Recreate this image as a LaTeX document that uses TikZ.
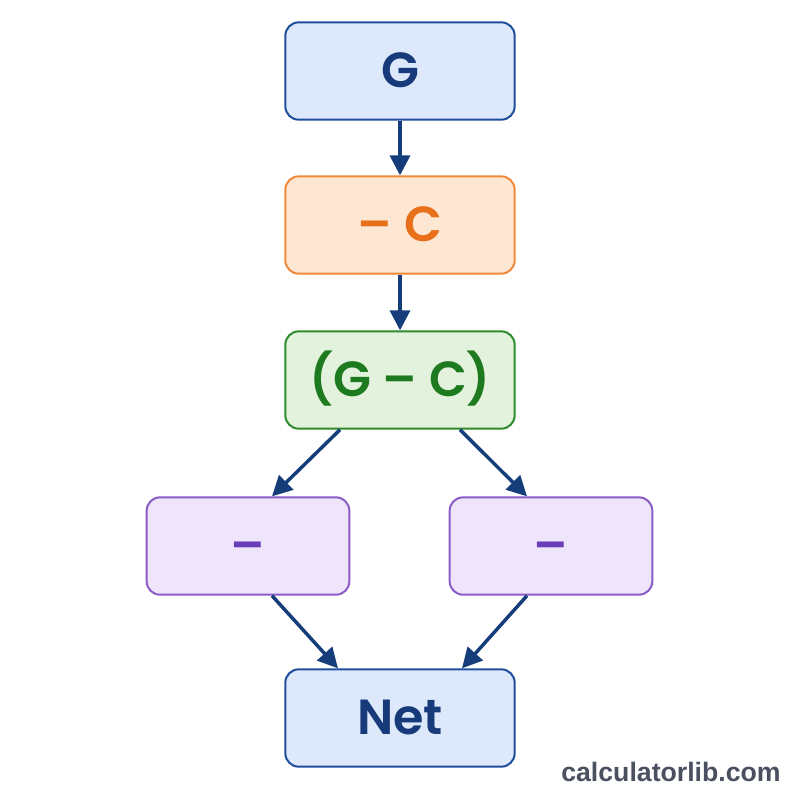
\documentclass[tikz,border=0pt]{standalone}
\usepackage{fontspec}
\setmainfont{Poppins}[BoldFont={Poppins SemiBold}]
\newfontfamily\wmfont{Liberation Sans}
\usetikzlibrary{arrows.meta}
\definecolor{bfill}{HTML}{DDE8FB}
\definecolor{bdraw}{HTML}{1F4E9A}
\definecolor{btext}{HTML}{163A7A}
\definecolor{ofill}{HTML}{FDE6D2}
\definecolor{odraw}{HTML}{F08A3A}
\definecolor{otext}{HTML}{E8701A}
\definecolor{gfill}{HTML}{E3F2DC}
\definecolor{gdraw}{HTML}{2E8B2E}
\definecolor{gtext}{HTML}{1E7A1E}
\definecolor{pfill}{HTML}{EFE5FA}
\definecolor{pdraw}{HTML}{8A5CC8}
\definecolor{ptext}{HTML}{6A3DB8}
\definecolor{arr}{HTML}{143D7A}
\definecolor{wm}{HTML}{4A5060}
\tikzset{
  box/.style={rectangle, rounded corners=10pt, line width=1.5pt, minimum width=172pt, minimum height=73pt, text height=25pt, text depth=0pt, inner sep=0pt, font=\fontsize{37}{40}\selectfont\bfseries},
  sbox/.style={box, minimum width=152pt},
  bluebox/.style={box, fill=bfill, draw=bdraw, text=btext},
  orangebox/.style={box, fill=ofill, draw=odraw, text=otext},
  greenbox/.style={box, fill=gfill, draw=gdraw, text=gtext},
  purplebox/.style={sbox, fill=pfill, draw=pdraw, text=ptext},
  conn/.style={draw=arr, line width=2.6pt, -{Triangle[length=15pt,width=15pt]}}
}
\begin{document}
\begin{tikzpicture}[x=0.75pt,y=-0.75pt]
\useasboundingbox[fill=white] (0,0) rectangle (800,800);
\node[bluebox] (g) at (400,71) {G};
\node[orangebox] (c) at (400,225) {– C};
\node[greenbox] (gc) at (400,380) {(G – C)};
\node[purplebox] (l) at (248,546) {–};
\node[purplebox] (r) at (551,546) {–};
\node[bluebox] (net) at (400,718) {Net};
\node[font=\wmfont\bfseries\fontsize{20}{24}\selectfont, text=wm] (wmk) at (671,772) {calculatorlib.com};
\draw[conn] (g.south) -- (c.north);
\draw[conn] (c.south) -- (gc.north);
\draw[conn] ([xshift=-45pt]gc.south) -- ([xshift=18pt]l.north);
\draw[conn] ([xshift=45pt]gc.south) -- ([xshift=-18pt]r.north);
\draw[conn] ([xshift=18pt]l.south) -- ([xshift=-46.5pt]net.north);
\draw[conn] ([xshift=-18pt]r.south) -- ([xshift=46.5pt]net.north);
\end{tikzpicture}
\end{document}
